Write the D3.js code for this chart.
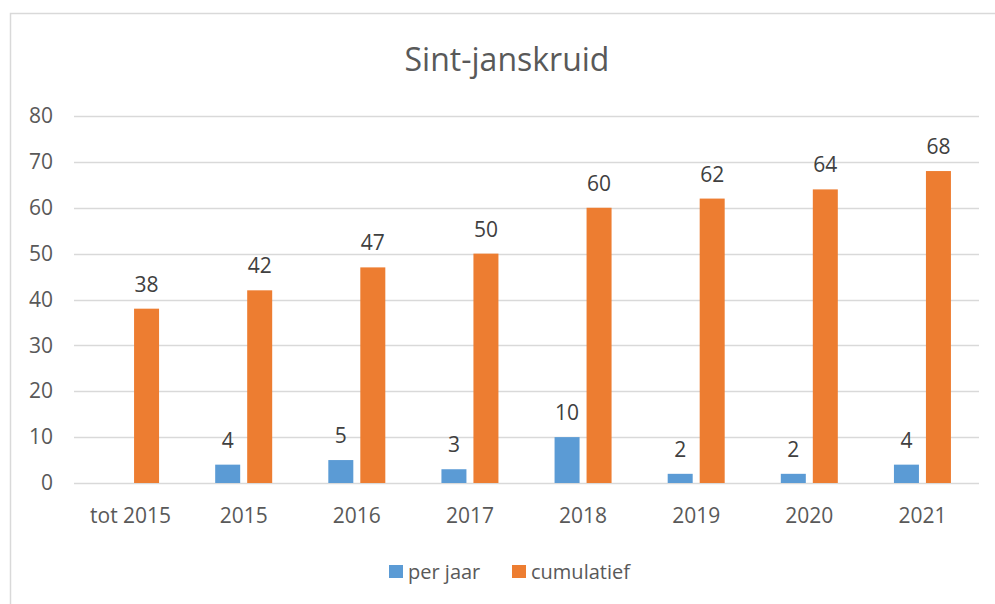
<!DOCTYPE html>
<html><head><meta charset="utf-8">
<script src="https://cdn.jsdelivr.net/npm/d3@7"></script>
<style>
html,body{margin:0;padding:0;background:#fff;}
svg{display:block;font-family:"Open Sans","Noto Sans",sans-serif;}
</style></head>
<body>
<svg id="c" width="995" height="604"></svg>
<script>
const categories = ["tot 2015","2015","2016","2017","2018","2019","2020","2021"];
const perJaar = [null,4,5,3,10,2,2,4];
const cumulatief = [38,42,47,50,60,62,64,68];
const yTicks = [0,10,20,30,40,50,60,70,80];
const seriesNames = ["per jaar","cumulatief"];
const colors = ["#5B9BD5","#ED7D31"];
const title = "Sint-janskruid";

(function(){
const svg = d3.select("#c");
svg.append("rect").attr("x",10.5).attr("y",13.5).attr("width",1000).attr("height",700)
  .attr("fill","#fff").attr("stroke","#D9D9D9").attr("stroke-width",1.5);

const pL = 74, pR = 979, pT = 116, pB = 483;
const x = d3.scaleBand().domain(categories).range([pL,pR]).paddingInner(0).paddingOuter(0);
const y = d3.scaleLinear().domain([0,80]).range([pB,pT]);
const barW = 25, gap = 7;
const xs = d3.scaleOrdinal().domain(seriesNames).range([-(gap/2+barW), gap/2]);

svg.append("g").selectAll("line").data(yTicks).join("line")
  .attr("x1",pL).attr("x2",pR)
  .attr("y1",d=>Math.round(y(d))+0.5).attr("y2",d=>Math.round(y(d))+0.5)
  .attr("stroke","#D9D9D9").attr("stroke-width",1.5);

const yAxis = d3.axisLeft(y).tickValues(yTicks).tickSize(0).tickPadding(0);
const ga = svg.append("g").attr("transform","translate(53,0)").call(yAxis);
ga.select(".domain").remove();
ga.selectAll("text").attr("fill","#595959").style("font-size","21px").style("font-family","'Open Sans',sans-serif");

const xAxis = d3.axisBottom(x).tickSize(0).tickPadding(0);
const gx = svg.append("g").attr("transform","translate(0,508)").call(xAxis);
gx.select(".domain").remove();
gx.selectAll("text").attr("fill","#595959").style("font-size","21px").style("font-family","'Open Sans',sans-serif");

const series = [perJaar, cumulatief];
series.forEach((vals,si)=>{
  const data = categories.map((c,i)=>({c, v: vals[i]})).filter(d=>d.v!=null);
  const g = svg.append("g");
  g.selectAll("rect").data(data).join("rect")
    .attr("x",d=>x(d.c)+x.bandwidth()/2+xs(seriesNames[si]))
    .attr("y",d=>y(d.v)).attr("width",barW).attr("height",d=>y(0)-y(d.v))
    .attr("fill",colors[si]);
  g.selectAll("text").data(data).join("text")
    .attr("x",d=>x(d.c)+x.bandwidth()/2+xs(seriesNames[si])+barW/2)
    .attr("y",d=>y(d.v)-17)
    .attr("text-anchor","middle").attr("fill","#404040").style("font-size","21px")
    .text(d=>d.v);
});

svg.append("text").attr("x",507).attr("y",71).attr("text-anchor","middle")
  .attr("fill","#595959").style("font-size","32px").text(title);

const legX = [389, 512];
seriesNames.forEach((n,i)=>{
  svg.append("rect").attr("x",legX[i]).attr("y",565).attr("width",14).attr("height",13).attr("fill",colors[i]);
  svg.append("text").attr("x",legX[i]+19).attr("y",579).attr("fill","#595959").style("font-size","20px").text(n);
});
})();
</script>
</body></html>
